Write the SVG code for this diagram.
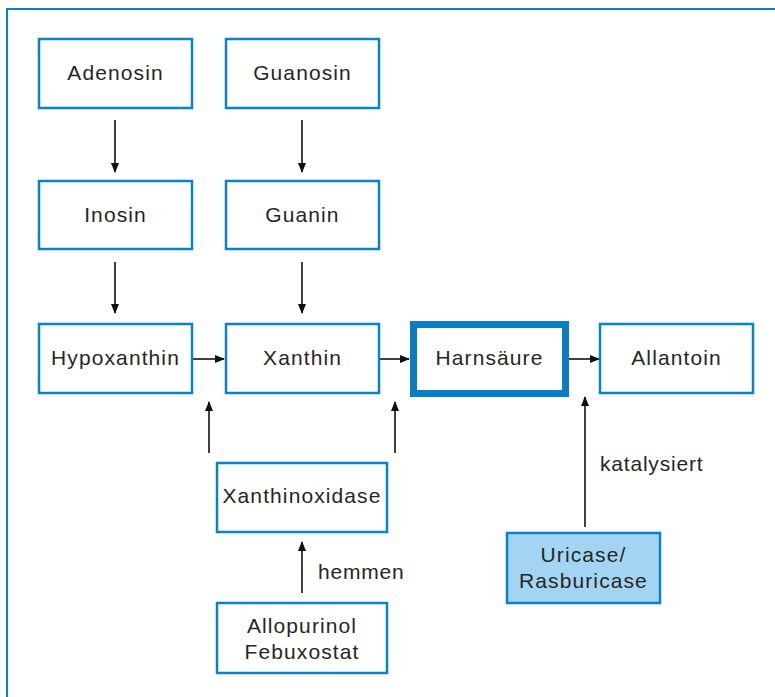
<svg xmlns="http://www.w3.org/2000/svg" width="775" height="697" viewBox="0 0 775 697">
<defs>
<marker id="ah" markerWidth="10" markerHeight="8" refX="9" refY="4" orient="auto" markerUnits="userSpaceOnUse">
<path d="M0,0 L10,4 L0,8 Z" fill="#111"/>
</marker>
<style>
.box{fill:#fff;stroke:#0a82c9;stroke-width:2.5}
.hl{fill:#fff;stroke:#0a7dc4;stroke-width:7}
.en{fill:#a3d5f3;stroke:#0a82c9;stroke-width:2.5}
.t{font-family:"Liberation Sans",Arial,sans-serif;font-size:21px;fill:#262626;text-anchor:middle;letter-spacing:1.1px}
.l{font-family:"Liberation Sans",Arial,sans-serif;font-size:21px;fill:#262626;letter-spacing:0.8px}
.c{stroke:#111;stroke-width:1.6;fill:none;marker-end:url(#ah)}
</style>
</defs>
<rect width="775" height="697" fill="#fff"/>
<path d="M7,697 V9 H775" fill="none" stroke="#0a82c9" stroke-width="2"/>
<g id="connectors">
<line class="c" x1="115" y1="120" x2="115" y2="172"/>
<line class="c" x1="302" y1="120" x2="302" y2="172"/>
<line class="c" x1="115" y1="262" x2="115" y2="313"/>
<line class="c" x1="302" y1="262" x2="302" y2="313"/>
<line class="c" x1="192" y1="359" x2="224" y2="359"/>
<line class="c" x1="379" y1="359" x2="409" y2="359"/>
<line class="c" x1="569" y1="359" x2="599" y2="359"/>
<line class="c" x1="209" y1="453" x2="209" y2="402"/>
<line class="c" x1="395" y1="453" x2="395" y2="402"/>
<line class="c" x1="302" y1="593" x2="302" y2="542"/>
<line class="c" x1="585" y1="527" x2="585" y2="397"/>
<text class="l" x="318" y="579">hemmen</text>
<text class="l" x="600" y="471">katalysiert</text>
</g>
<g id="adenosin"><rect class="box" x="39" y="39" width="153" height="69"/><text class="t" x="115.5" y="80">Adenosin</text></g>
<g id="guanosin"><rect class="box" x="226" y="39" width="153" height="69"/><text class="t" x="302.5" y="80">Guanosin</text></g>
<g id="inosin"><rect class="box" x="39" y="181" width="153" height="68"/><text class="t" x="115.5" y="222">Inosin</text></g>
<g id="guanin"><rect class="box" x="226" y="181" width="153" height="68"/><text class="t" x="302.5" y="222">Guanin</text></g>
<g id="hypoxanthin"><rect class="box" x="39" y="324" width="153" height="69"/><text class="t" x="115.5" y="365">Hypoxanthin</text></g>
<g id="xanthin"><rect class="box" x="226" y="324" width="153" height="69"/><text class="t" x="302.5" y="365">Xanthin</text></g>
<g id="harnsaeure"><rect class="hl" x="413.5" y="324.5" width="152" height="69"/><text class="t" x="489.5" y="365">Harnsäure</text></g>
<g id="allantoin"><rect class="box" x="600" y="324" width="153" height="69"/><text class="t" x="676.5" y="365">Allantoin</text></g>
<g id="xanthinoxidase"><rect class="box" x="217" y="463" width="170" height="69"/><text class="t" x="302" y="503">Xanthinoxidase</text></g>
<g id="allopurinol"><rect class="box" x="217" y="603" width="170" height="70"/><text class="t" x="302" y="633">Allopurinol</text><text class="t" x="302" y="659">Febuxostat</text></g>
<g id="uricase"><rect class="en" x="507" y="533" width="153" height="70"/><text class="t" x="583.5" y="562">Uricase/</text><text class="t" x="583.5" y="588">Rasburicase</text></g>
</svg>
